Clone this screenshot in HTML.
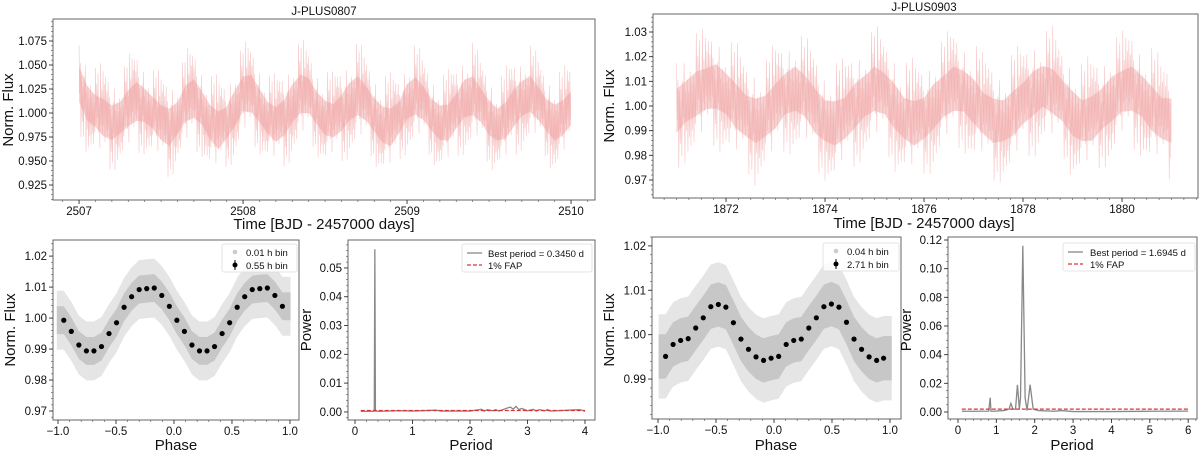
<!DOCTYPE html>
<html><head><meta charset="utf-8">
<style>
html,body{margin:0;padding:0;background:#fff;}
svg{display:block;font-family:"Liberation Sans","DejaVu Sans",sans-serif;}
</style></head>
<body>
<svg id="fig" width="1200" height="453" viewBox="0 0 1200 453" xmlns="http://www.w3.org/2000/svg"></svg>
<script>
// ---------- DATA ----------
const lc1Time = [2507.00,2507.05,2507.10,2507.15,2507.20,2507.25,2507.30,2507.35,2507.40,2507.45,2507.50,2507.55,2507.60,2507.65,2507.70,2507.75,2507.80,2507.85,2507.90,2507.95,2508.00,2508.05,2508.10,2508.15,2508.20,2508.25,2508.30,2508.35,2508.40,2508.45,2508.50,2508.55,2508.60,2508.65,2508.70,2508.75,2508.80,2508.85,2508.90,2508.95,2509.00,2509.05,2509.10,2509.15,2509.20,2509.25,2509.30,2509.35,2509.40,2509.45,2509.50,2509.55,2509.60,2509.65,2509.70,2509.75,2509.80,2509.85,2509.90,2509.95,2510.00];
const lc1Flux = [1.030,1.010,1.002,0.995,0.990,0.995,1.005,1.012,1.008,1.000,0.990,0.985,0.995,1.010,1.015,1.005,0.990,0.982,0.990,1.005,1.020,1.020,1.008,0.995,0.988,0.995,1.010,1.020,1.018,1.005,0.995,0.992,1.000,1.012,1.018,1.010,0.998,0.988,0.985,0.995,1.012,1.018,1.010,0.998,0.990,0.990,1.002,1.015,1.018,1.008,0.995,0.988,0.992,1.005,1.015,1.020,1.010,0.998,0.990,0.995,1.005];
const lc1Spread = [0.025,0.024,0.022,0.026,0.024,0.022,0.025,0.027,0.023,0.022,0.024,0.026,0.022,0.025,0.027,0.023,0.024,0.026,0.022,0.025,0.024,0.026,0.023,0.022,0.024,0.025,0.026,0.027,0.024,0.022,0.024,0.023,0.025,0.026,0.027,0.024,0.023,0.025,0.026,0.022,0.024,0.026,0.023,0.022,0.024,0.025,0.024,0.026,0.027,0.023,0.024,0.022,0.025,0.026,0.024,0.025,0.023,0.022,0.025,0.024,0.023];
const lc2Time = [1871.0,1871.2,1871.4,1871.6,1871.8,1872.0,1872.2,1872.4,1872.6,1872.8,1873.0,1873.2,1873.4,1873.6,1873.8,1874.0,1874.2,1874.4,1874.6,1874.8,1875.0,1875.2,1875.4,1875.6,1875.8,1876.0,1876.2,1876.4,1876.6,1876.8,1877.0,1877.2,1877.4,1877.6,1877.8,1878.0,1878.2,1878.4,1878.6,1878.8,1879.0,1879.2,1879.4,1879.6,1879.8,1880.0,1880.2,1880.4,1880.6,1880.8,1881.0];
const lc2Flux = [0.998,1.002,1.005,1.007,1.008,1.005,1.000,0.996,0.994,0.996,1.000,1.005,1.007,1.004,0.998,0.994,0.993,0.995,1.000,1.004,1.007,1.005,1.000,0.995,0.993,0.995,1.000,1.004,1.007,1.006,1.002,0.997,0.994,0.994,0.997,1.001,1.005,1.008,1.006,1.002,0.997,0.994,0.995,0.999,1.003,1.006,1.007,1.004,0.999,0.995,0.994];
const lc2Spread = [0.012,0.011,0.012,0.011,0.012,0.011,0.012,0.011,0.012,0.011,0.012,0.011,0.012,0.011,0.012,0.011,0.012,0.011,0.012,0.011,0.012,0.011,0.012,0.011,0.012,0.011,0.012,0.011,0.012,0.011,0.012,0.011,0.012,0.011,0.012,0.011,0.012,0.011,0.012,0.011,0.012,0.011,0.012,0.011,0.012,0.011,0.012,0.011,0.012,0.011,0.012];

const phase1 = [-0.95,-0.885,-0.82,-0.755,-0.69,-0.625,-0.56,-0.495,-0.43,-0.365,-0.30,-0.235,-0.17,-0.105,-0.04,0.025,0.09,0.155,0.22,0.285,0.35,0.415,0.48,0.545,0.61,0.675,0.74,0.805,0.87,0.935];
const binFlux1 = [0.9993,0.9957,0.9913,0.9894,0.9894,0.9908,0.9950,0.9985,1.0035,1.0069,1.0092,1.0095,1.0097,1.0073,1.0038,0.9993,0.9957,0.9913,0.9894,0.9894,0.9908,0.9950,0.9985,1.0035,1.0069,1.0092,1.0095,1.0097,1.0073,1.0038];
const phase2 = [-0.935,-0.87,-0.805,-0.74,-0.675,-0.61,-0.545,-0.48,-0.415,-0.35,-0.285,-0.22,-0.155,-0.09,-0.025,0.04,0.105,0.17,0.235,0.30,0.365,0.43,0.495,0.56,0.625,0.69,0.755,0.82,0.885,0.945];
const binFlux2 = [0.9951,0.9978,0.9987,0.9991,1.0015,1.0038,1.0063,1.0068,1.0062,1.0027,0.9990,0.9967,0.9950,0.9942,0.9947,0.9951,0.9978,0.9987,0.9990,1.0015,1.0038,1.0063,1.0069,1.0062,1.0028,0.9990,0.9967,0.9950,0.9942,0.9947];

const per1 = [0.1,0.3,0.335,0.345,0.355,0.4,0.8,1.0,1.4,1.5,2.0,2.2,2.25,2.3,2.4,2.45,2.5,2.7,2.75,2.8,2.85,2.9,3.0,3.1,3.15,3.2,3.3,3.35,3.4,3.5,3.8,3.9,3.95,4.0];
const pow1 = [0.0002,0.0002,0.0003,0.0565,0.0003,0.0002,0.0004,0.0003,0.0006,0.0003,0.0003,0.0009,0.0003,0.0008,0.0004,0.0008,0.0003,0.0017,0.0010,0.0019,0.0008,0.0012,0.0004,0.0009,0.0003,0.0008,0.0004,0.0008,0.0003,0.0004,0.0007,0.0008,0.0006,0.0002];
const fap1 = [0.0005];
const per2 = [0.1,0.5,0.8,0.84,0.86,0.9,1.2,1.33,1.38,1.43,1.5,1.55,1.6,1.63,1.69,1.75,1.8,1.88,1.96,2.1,2.5,2.7,3.0,4.0,5.0,6.0];
const pow2 = [0.0005,0.0005,0.0006,0.010,0.0006,0.0005,0.001,0.002,0.006,0.002,0.002,0.019,0.002,0.010,0.116,0.010,0.001,0.019,0.002,0.001,0.0005,0.001,0.0003,0.0003,0.0005,0.0006];
const fap2 = [0.002];

const xt1 = [2507,2508,2509,2510];
const yt1 = [0.925,0.950,0.975,1.000,1.025,1.050,1.075];
const xt2 = [1872,1874,1876,1878,1880];
const yt2 = [0.97,0.98,0.99,1.00,1.01,1.02,1.03];
const xtPhase = [-1.0,-0.5,0.0,0.5,1.0];
const yt3 = [0.97,0.98,0.99,1.00,1.01,1.02];
const yt5 = [0.99,1.00,1.01,1.02];
const xt4 = [0,1,2,3,4];
const yt4 = [0.00,0.01,0.02,0.03,0.04,0.05];
const xt6 = [0,1,2,3,4,5,6];
const yt6 = [0.00,0.02,0.04,0.06,0.08,0.10,0.12];

// ---------- HELPERS ----------
const NS = "http://www.w3.org/2000/svg";
const svg = document.getElementById('fig');
function mk(tag, attrs, parent){
  const e = document.createElementNS(NS, tag);
  for (const k in attrs) e.setAttribute(k, attrs[k]);
  (parent||svg).appendChild(e);
  return e;
}
function axes(f){
  const sx = v => f.x0 + (v - f.xmin)/(f.xmax - f.xmin)*(f.x1 - f.x0);
  const sy = v => f.y1 - (v - f.ymin)/(f.ymax - f.ymin)*(f.y1 - f.y0);
  return {sx, sy, f};
}
function fmt(v, d){ return v < 0 ? '\u2212' + Math.abs(v).toFixed(d) : v.toFixed(d); }
function drawFrame(ax, name, xt, xd, yt, yd, minorX, minorY, fs){
  const f = ax.f;
  const g = mk('g', {});
  
  
  const fr = mk('rect', {x:f.x0, y:f.y0, width:f.x1-f.x0, height:f.y1-f.y0, fill:'none', stroke:'#666', 'stroke-width':1}, g);
  
  
  if (minorX) for (let v = Math.ceil(f.xmin/minorX)*minorX; v <= f.xmax; v += minorX){
    const x = ax.sx(v);
    mk('line', {x1:x, x2:x, y1:f.y1, y2:f.y1+2, stroke:'#666', 'stroke-width':0.7}, g);
  }
  if (minorY) for (let v = Math.ceil(f.ymin/minorY)*minorY; v <= f.ymax; v += minorY){
    const y = ax.sy(v);
    mk('line', {x1:f.x0-2, x2:f.x0, y1:y, y2:y, stroke:'#666', 'stroke-width':0.7}, g);
  }
  xt.forEach(v => {
    const x = ax.sx(v);
    mk('line', {x1:x, x2:x, y1:f.y1, y2:f.y1+4, stroke:'#333', 'stroke-width':0.9}, g);
    const t = mk('text', {x:x, y:f.y1+15, 'text-anchor':'middle', 'font-size':fs, fill:'#111'}, g);
    t.textContent = fmt(v, xd);
    
    
  });
  yt.forEach(v => {
    const y = ax.sy(v);
    mk('line', {x1:f.x0-4, x2:f.x0, y1:y, y2:y, stroke:'#333', 'stroke-width':0.9}, g);
    const t = mk('text', {x:f.x0-6, y:y+4, 'text-anchor':'end', 'font-size':fs, fill:'#111'}, g);
    t.textContent = fmt(v, yd);
    
    
  });
}
function label(x, y, txt, name, rot, fs){
  const t = mk('text', {x:x, y:y, 'text-anchor':'middle', 'font-size':fs||15, fill:'#111'});
  if (rot) t.setAttribute('transform', 'rotate(-90 ' + x + ' ' + y + ')');
  t.textContent = txt;
  
  
  return t;
}
// irregular amplitude pattern used purely for the drawing texture
const texture = [1.9,0.4,1.2,2.4,0.7,1.5,0.3,2.1,1.0,0.6,1.7,2.6,0.5,1.3,0.9,2.2,0.35,1.6,1.1,2.0,0.55,1.4,0.8];
function lightCurve(ax, T, F, S, name){
  const f = ax.f;
  const cid = name + '-clip';
  const cp = mk('clipPath', {id:cid});
  mk('rect', {x:f.x0, y:f.y0, width:f.x1-f.x0, height:f.y1-f.y0}, cp);
  const g = mk('g', {'clip-path':'url(#' + cid + ')'});
  
  
  let up = '', dn = '';
  for (let i = 0; i < T.length; i++){
    up += ax.sx(T[i]) + ',' + ax.sy(F[i] + S[i]*0.75) + ' ';
    dn = ax.sx(T[i]) + ',' + ax.sy(F[i] - S[i]*0.75) + ' ' + dn;
  }
  const band = mk('polygon', {points: up + dn, fill:'#f4c0c0', opacity:0.7}, g);
  
  
  const sub = 13;
  let pts = '', k = 0;
  for (let i = 0; i < T.length - 1; i++){
    for (let j = 0; j < sub; j++){
      const fr = j / sub;
      const t = T[i] + (T[i+1] - T[i]) * fr;
      const m = F[i] + (F[i+1] - F[i]) * fr;
      const s = S[i] + (S[i+1] - S[i]) * fr;
      const sign = (k % 2 === 0) ? 1 : -1;
      pts += ax.sx(t) + ',' + ax.sy(m + sign * s * texture[k % texture.length] * 0.85) + ' ';
      k++;
    }
  }
  const ln = mk('polyline', {points: pts, fill:'none', stroke:'#f0a0a0', 'stroke-width':0.6, opacity:0.6}, g);
  
  
}
function phasePlot(ax, P, B, inner, outer, name){
  const f = ax.f;
  const cid = name + '-clip';
  const cp = mk('clipPath', {id:cid});
  mk('rect', {x:f.x0, y:f.y0, width:f.x1-f.x0, height:f.y1-f.y0}, cp);
  const g = mk('g', {'clip-path':'url(#' + cid + ')'});
  
  
  [[outer, '#e2e2e2', 0.9], [inner, '#c2c2c2', 0.85]].forEach(([w, c, o]) => {
    let up = '', dn = '';
    const n = P.length;
    const ext = [[P[0] - 0.06, B[0]]].concat(P.map((p, i) => [p, B[i]])).concat([[P[n-1] + 0.07, B[n-1]]]);
    ext.forEach(([p, b]) => {
      up += ax.sx(p) + ',' + ax.sy(b + w) + ' ';
      dn = ax.sx(p) + ',' + ax.sy(b - w) + ' ' + dn;
    });
    mk('polygon', {points: up + dn, fill:c, opacity:o}, g);
  });
  for (let i = 0; i < P.length; i++){
    const d = mk('circle', {cx:ax.sx(P[i]), cy:ax.sy(B[i]), r:2.6, fill:'#000'});
    
    
  }
}
function periodogram(ax, P, W, fap, name){
  let pts = '';
  for (let i = 0; i < P.length; i++) pts += ax.sx(P[i]) + ',' + ax.sy(W[i]) + ' ';
  const l = mk('polyline', {points: pts, fill:'none', stroke:'#888', 'stroke-width':1.3});
  
  
  const fl = mk('line', {x1:ax.sx(P[0]), x2:ax.sx(P[P.length-1]), y1:ax.sy(fap[0]), y2:ax.sy(fap[0]), stroke:'#e03030', 'stroke-width':1.2, 'stroke-dasharray':'4,2'});
  
  
}
function legendBox(x, y, w, h, name){
  const r = mk('rect', {x:x, y:y, width:w, height:h, rx:2, fill:'#fff', 'fill-opacity':0.85, stroke:'#ddd', 'stroke-width':0.8});
  
  
}
function legText(x, y, txt, name){
  const t = mk('text', {x:x, y:y, 'font-size':9.5, fill:'#111'});
  t.textContent = txt;
  
  
}

// ---------- PANEL 1 ----------
const a1 = axes({x0:53, x1:595, y0:19, y1:200, xmin:2506.841, xmax:2510.146, ymin:0.9094, ymax:1.0979});
lightCurve(a1, lc1Time, lc1Flux, lc1Spread, 'lightcurve-0807');
drawFrame(a1, 'lightcurve-0807', xt1, 0, yt1, 3, 0.1, 0.005, 11.5);
label(324, 15, 'J-PLUS0807', 'title-0807', false, 11.5);
label(324, 229, 'Time [BJD - 2457000 days]', 'x-axis-title-time-0807', false, 15);
label(13, 110, 'Norm. Flux', 'y-axis-title-flux-0807', true, 15);

// ---------- PANEL 2 ----------
const a2 = axes({x0:653, x1:1198, y0:14, y1:198, xmin:1870.525, xmax:1881.535, ymin:0.9627, ymax:1.0373});
lightCurve(a2, lc2Time, lc2Flux, lc2Spread, 'lightcurve-0903');
drawFrame(a2, 'lightcurve-0903', xt2, 0, yt2, 2, 0.25, 0.002, 11.5);
label(924, 11, 'J-PLUS0903', 'title-0903', false, 11.5);
label(924, 228, 'Time [BJD - 2457000 days]', 'x-axis-title-time-0903', false, 15);
label(614, 106, 'Norm. Flux', 'y-axis-title-flux-0903', true, 15);

// ---------- PANEL 3 ----------
const a3 = axes({x0:53, x1:299, y0:240, y1:420, xmin:-1.043, xmax:1.078, ymin:0.9671, ymax:1.0252});
phasePlot(a3, phase1, binFlux1, 0.0045, 0.0095, 'phase-0807');
drawFrame(a3, 'phase-0807', xtPhase, 1, yt3, 2, 0.1, 0.002, 11.5);
label(176, 450, 'Phase', 'x-axis-title-phase-0807', false, 15);
label(15, 330, 'Norm. Flux', 'y-axis-title-phase-flux-0807', true, 15);
legendBox(222, 244, 75, 28, 'legend-phase-0807');
mk('circle', {cx:235, cy:252, r:2.3, fill:'#ccc'});
legText(246, 256, '0.01 h bin', 'legend-entry-fine-bin-0807');
mk('line', {x1:235, x2:235, y1:260, y2:270, stroke:'#000', 'stroke-width':1});
mk('circle', {cx:235, cy:265, r:2.5, fill:'#000'});
legText(246, 269, '0.55 h bin', 'legend-entry-coarse-bin-0807');

// ---------- PANEL 4 ----------
const a4 = axes({x0:348, x1:595, y0:240, y1:420, xmin:-0.122, xmax:4.174, ymin:-0.0028, ymax:0.0597});
periodogram(a4, per1, pow1, fap1, 'periodogram-0807');
drawFrame(a4, 'periodogram-0807', xt4, 0, yt4, 2, 0.2, 0.002, 11.5);
label(471, 450, 'Period', 'x-axis-title-period-0807', false, 15);
label(311, 330, 'Power', 'y-axis-title-power-0807', true, 15);
legendBox(462, 244, 130, 28, 'legend-periodogram-0807');
mk('line', {x1:467, x2:482, y1:253, y2:253, stroke:'#888', 'stroke-width':1.3});
legText(488, 257, 'Best period = 0.3450 d', 'legend-entry-best-period-0807');
mk('line', {x1:467, x2:482, y1:265, y2:265, stroke:'#e03030', 'stroke-width':1.2, 'stroke-dasharray':'4,2'});
legText(488, 269, '1% FAP', 'legend-entry-fap-0807');

// ---------- PANEL 5 ----------
const a5 = axes({x0:652, x1:901, y0:237, y1:419, xmin:-1.052, xmax:1.095, ymin:0.9810, ymax:1.0220});
phasePlot(a5, phase2, binFlux2, 0.005, 0.0095, 'phase-0903');
drawFrame(a5, 'phase-0903', xtPhase, 1, yt5, 2, 0.1, 0.002, 11.5);
label(776, 450, 'Phase', 'x-axis-title-phase-0903', false, 15);
label(614, 330, 'Norm. Flux', 'y-axis-title-phase-flux-0903', true, 15);
legendBox(823, 243, 76, 28, 'legend-phase-0903');
mk('circle', {cx:836, cy:251, r:2.3, fill:'#ccc'});
legText(847, 255, '0.04 h bin', 'legend-entry-fine-bin-0903');
mk('line', {x1:836, x2:836, y1:259, y2:269, stroke:'#000', 'stroke-width':1});
mk('circle', {cx:836, cy:264, r:2.5, fill:'#000'});
legText(847, 268, '2.71 h bin', 'legend-entry-coarse-bin-0903');

// ---------- PANEL 6 ----------
const a6 = axes({x0:948, x1:1197, y0:237, y1:419, xmin:-0.26, xmax:6.23, ymin:-0.0049, ymax:0.1221});
periodogram(a6, per2, pow2, fap2, 'periodogram-0903');
drawFrame(a6, 'periodogram-0903', xt6, 0, yt6, 2, 0.2, 0.005, 11.5);
label(1072, 450, 'Period', 'x-axis-title-period-0903', false, 15);
label(911, 330, 'Power', 'y-axis-title-power-0903', true, 15);
legendBox(1063, 243, 132, 28, 'legend-periodogram-0903');
mk('line', {x1:1068, x2:1083, y1:252, y2:252, stroke:'#888', 'stroke-width':1.3});
legText(1090, 256, 'Best period = 1.6945 d', 'legend-entry-best-period-0903');
mk('line', {x1:1068, x2:1083, y1:264, y2:264, stroke:'#e03030', 'stroke-width':1.2, 'stroke-dasharray':'4,2'});
legText(1090, 268, '1% FAP', 'legend-entry-fap-0903');
</script>
</body></html>
